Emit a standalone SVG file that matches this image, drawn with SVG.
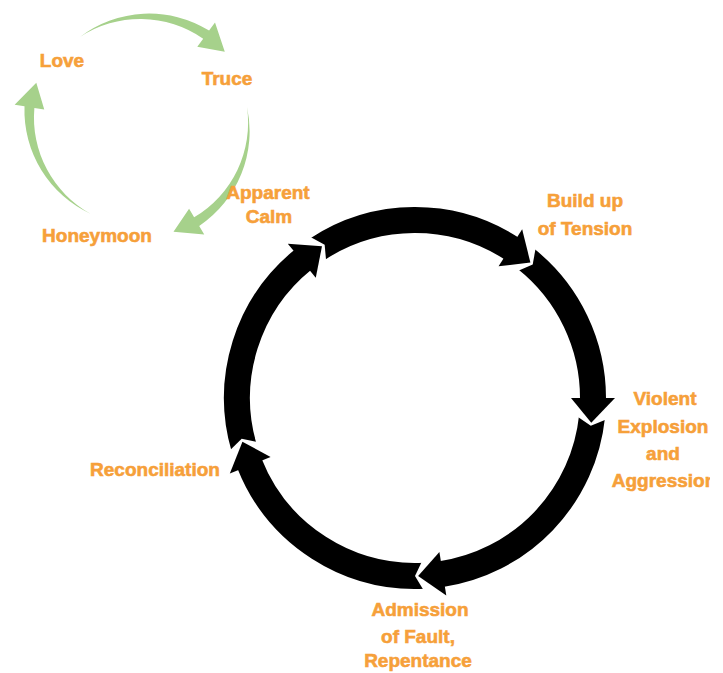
<svg xmlns="http://www.w3.org/2000/svg" xmlns:xlink="http://www.w3.org/1999/xlink" width="723" height="673" viewBox="0 0 723 673">
<defs>
<style>
.lbl{font-family:"Liberation Sans",Arial,sans-serif;font-weight:bold;font-size:19px;fill:#f6a03a;stroke:#f6a03a;stroke-width:0.6;text-anchor:middle}
.ring{fill:none;stroke:#000;stroke-width:26}
.green{fill:#a6d18b}
</style>
<polygon id="head" points="198.05,-27.83 178,0 154.48,-21.71" fill="#000"/>
<polygon id="notch" points="196.84,-7.91 158.87,-6.38 177.97,3.11" fill="#fff"/>
<clipPath id="cut"><rect x="0" y="0" width="710" height="673"/></clipPath>
</defs>
<rect width="723" height="673" fill="#fff"/>
<g id="connectors">
<g id="green-cycle">
<path class="green" d="M80,37 A114 114 0 0 1 209.10,30.58 L215.01,22.51 L224.78,51.82 L197.29,46.72 L203.19,38.65 A110 110 0 0 0 80,37 Z"/>
<path class="green" d="M247,107 A114 114 0 0 1 199.20,225.91 L204.26,234.54 L173.49,231.87 L189.08,208.66 L194.14,217.29 A110 110 0 0 0 247,107 Z"/>
<path class="green" d="M91,214 A114 114 0 0 1 24.51,106.29 L14.64,104.69 L36.30,82.69 L44.25,109.49 L34.38,107.89 A110 110 0 0 0 91,214 Z"/>
</g>
<g id="black-cycle" transform="translate(415,398)">
<circle class="ring" r="178" transform="rotate(163.8)" stroke-dasharray="208.8 2000"/>
<circle class="ring" r="178" transform="rotate(-123.5)" stroke-dasharray="206.3 2000"/>
<circle class="ring" r="178" transform="rotate(-51.6)" stroke-dasharray="161.9 2000"/>
<circle class="ring" r="178" transform="rotate(6)" stroke-dasharray="234.6 2000"/>
<circle class="ring" r="178" transform="rotate(87)" stroke-dasharray="221.6 2000"/>
<use xlink:href="#notch" transform="rotate(-121.5)"/>
<use xlink:href="#notch" transform="rotate(-49.6)"/>
<use xlink:href="#notch" transform="rotate(8)"/>
<use xlink:href="#notch" transform="rotate(89)"/>
<use xlink:href="#notch" transform="rotate(165.8)"/>
<use xlink:href="#head" transform="rotate(-121.5)"/>
<use xlink:href="#head" transform="rotate(-49.6)"/>
<use xlink:href="#head" transform="rotate(8)"/>
<use xlink:href="#head" transform="rotate(89)"/>
<use xlink:href="#head" transform="rotate(165.8)"/>
</g>
</g>
<g id="love"><text class="lbl" x="62" y="67">Love</text></g>
<g id="truce"><text class="lbl" x="227" y="85">Truce</text></g>
<g id="apparent-calm"><text class="lbl" x="268" y="199">Apparent</text><text class="lbl" x="269" y="223">Calm</text></g>
<g id="honeymoon"><text class="lbl" x="97" y="242">Honeymoon</text></g>
<g id="build-up"><text class="lbl" x="585" y="207">Build up</text><text class="lbl" x="585" y="235">of Tension</text></g>
<g id="violent-explosion" clip-path="url(#cut)"><text class="lbl" x="665" y="405">Violent</text><text class="lbl" x="663" y="433">Explosion</text><text class="lbl" x="663" y="460">and</text><text class="lbl" x="664" y="487">Aggression</text></g>
<g id="admission"><text class="lbl" x="420" y="616">Admission</text><text class="lbl" x="418" y="643">of Fault,</text><text class="lbl" x="418" y="667">Repentance</text></g>
<g id="reconciliation"><text class="lbl" x="155" y="476">Reconciliation</text></g>
</svg>
